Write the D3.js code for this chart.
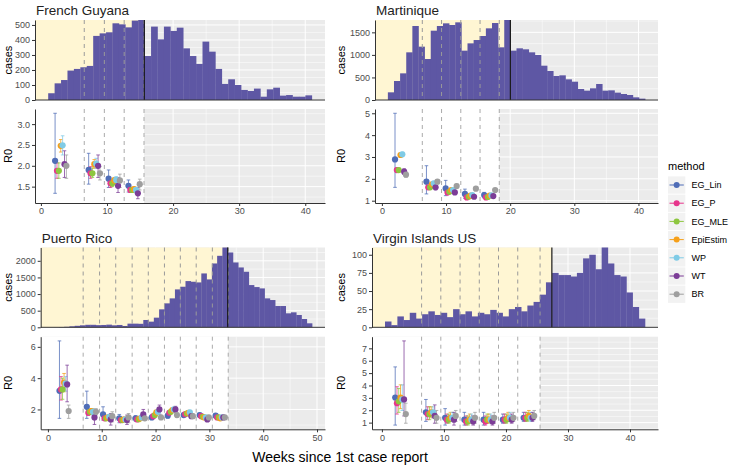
<!DOCTYPE html>
<html>
<head>
<meta charset="utf-8">
<script src="https://cdn.jsdelivr.net/npm/d3@7"></script>
<style>
  body { margin: 0; background: #fff; }
  svg text { font-family: "Liberation Sans", Arial, sans-serif; font-weight: normal; }
</style>
</head>
<body>
<svg id="chart" width="730" height="467"></svg>
<script>
// methods and colours
const methods = ['EG_Lin', 'EG_P', 'EG_MLE', 'EpiEstim', 'WP', 'WT', 'BR'];
const methodColors = ['#4F6DB7', '#E7358C', '#8DC63F', '#F6A01A', '#7FCBE6', '#7C3D97', '#9E9E9E'];

// ---- French Guyana ----
const fgCases = [45, 111, 133, 196, 207, 218, 227, 427, 444, 451, 511, 504, 484, 529, 533,
  293, 489, 404, 489, 460, 482, 344, 293, 240, 389, 322, 207, 107, 138, 100, 67, 60, 76,
  22, 71, 82, 29, 33, 22, 22, 31];
const fgBreaks = [6.56, 9.6, 12.6, 15.6];
const fgCenters = [3.0, 8.08, 11.1, 14.1];
const fgMid = [
  [2.12, 1.88, 1.88, 2.48, 2.49, 2.04, 2.00],
  [1.90, 1.82, 1.82, 2.04, 2.05, 2.00, 1.82],
  [1.69, 1.58, 1.58, 1.65, 1.66, 1.52, 1.65],
  [1.52, 1.42, 1.42, 1.44, 1.42, 1.34, 1.56]];
const fgLo = [
  [1.34, 1.70, 1.70, 2.33, 2.26, 1.72, 1.70],
  [1.56, 1.70, 1.72, 1.94, 1.94, 1.72, 1.66],
  [1.48, 1.48, 1.50, 1.58, 1.58, 1.36, 1.48],
  [1.37, 1.36, 1.37, 1.39, 1.37, 1.21, 1.42]];
const fgHi = [
  [3.26, 2.07, 2.07, 2.63, 2.72, 2.36, 2.26],
  [2.30, 1.98, 1.95, 2.15, 2.18, 2.26, 1.98],
  [1.90, 1.66, 1.66, 1.72, 1.74, 1.72, 1.80],
  [1.66, 1.48, 1.47, 1.49, 1.47, 1.48, 1.68]];

// ---- Martinique ----
const martCases = [170, 421, 591, 1057, 1641, 1183, 909, 1537, 1641, 1700, 1663, 1722, 1094,
  1256, 1330, 1419, 1589, 1707, 1168, 1774, 1094, 1146, 1124, 1057, 998, 761, 643, 532, 547,
  458, 406, 244, 207, 259, 355, 207, 214, 163, 133, 111, 59, 30];
const martBreaks = [6.3, 9.3, 12.3, 15.3, 18.3];
const martCenters = [2.9, 7.8, 10.8, 13.8, 16.8];
const martMid = [
  [2.89, 2.40, 2.40, 3.09, 3.12, 2.33, 2.19],
  [1.87, 1.61, 1.61, 1.75, 1.79, 1.61, 1.87],
  [1.56, 1.37, 1.41, 1.49, 1.49, 1.38, 1.67],
  [1.31, 1.15, 1.18, 1.23, 1.26, 1.18, 1.55],
  [1.26, 1.15, 1.17, 1.23, 1.24, 1.21, 1.49]];
const martLo = [
  [1.61, 2.30, 2.30, 3.00, 3.02, 2.20, 2.08],
  [1.31, 1.52, 1.52, 1.68, 1.70, 1.50, 1.78],
  [1.23, 1.30, 1.33, 1.43, 1.43, 1.30, 1.58],
  [1.11, 1.09, 1.12, 1.18, 1.20, 1.10, 1.47],
  [1.12, 1.10, 1.12, 1.18, 1.19, 1.14, 1.42]];
const martHi = [
  [5.00, 2.50, 2.50, 3.18, 3.22, 2.46, 2.30],
  [2.60, 1.70, 1.70, 1.82, 1.88, 1.72, 1.96],
  [1.93, 1.44, 1.49, 1.55, 1.55, 1.46, 1.76],
  [1.53, 1.21, 1.24, 1.28, 1.32, 1.26, 1.63],
  [1.38, 1.20, 1.22, 1.28, 1.29, 1.28, 1.56]];

// ---- Puerto Rico ----
const prCases = [3, 8, 15, 30, 45, 60, 75, 75, 65, 70, 80, 60, 70, 40, 110, 110, 105, 220, 170,
  290, 540, 720, 870, 1140, 1220, 1390, 1370, 1350, 1620, 1440, 1920, 2150, 2400, 2250, 1950,
  1800, 1670, 1270, 1210, 1170, 870, 820, 640, 640, 420, 450, 370, 250, 120];
const prBreaks = [6.55, 9.6, 12.6, 15.65, 18.65, 21.65, 24.6, 27.55, 30.55, 33.5];
const prCenters = [3.0, 8.08, 11.1, 14.12, 17.15, 20.15, 23.12, 26.08, 29.05, 32.02];
const prMid = [
  [3.19, 3.28, 3.28, 3.72, 3.66, 3.60, 1.90],
  [2.17, 1.79, 1.85, 1.90, 1.85, 1.49, 1.85],
  [1.68, 1.43, 1.43, 1.49, 1.53, 1.36, 1.57],
  [1.43, 1.32, 1.32, 1.36, 1.36, 1.32, 1.49],
  [1.43, 1.36, 1.38, 1.43, 1.49, 1.68, 1.43],
  [1.49, 1.57, 1.64, 1.81, 1.85, 2.00, 1.49],
  [1.60, 1.79, 1.85, 1.96, 2.00, 2.00, 1.64],
  [1.64, 1.70, 1.74, 1.79, 1.81, 1.57, 1.57],
  [1.64, 1.57, 1.53, 1.49, 1.49, 1.36, 1.49],
  [1.60, 1.49, 1.49, 1.43, 1.49, 1.49, 1.49]];
const prLo = [
  [1.43, 2.60, 2.65, 3.13, 3.17, 2.49, 1.43],
  [1.43, 1.62, 1.68, 1.75, 1.64, 1.04, 1.65],
  [1.32, 1.33, 1.33, 1.40, 1.42, 1.00, 1.21],
  [1.15, 1.22, 1.22, 1.27, 1.26, 1.04, 1.15],
  [1.25, 1.26, 1.28, 1.34, 1.38, 1.32, 1.30],
  [1.35, 1.45, 1.52, 1.70, 1.72, 1.70, 1.36],
  [1.45, 1.68, 1.74, 1.86, 1.88, 1.80, 1.50],
  [1.52, 1.60, 1.64, 1.70, 1.70, 1.45, 1.45],
  [1.52, 1.48, 1.44, 1.40, 1.40, 1.24, 1.38],
  [1.50, 1.40, 1.40, 1.35, 1.40, 1.38, 1.38]];
const prHi = [
  [6.38, 4.10, 4.00, 4.30, 4.10, 4.83, 2.28],
  [3.17, 1.96, 2.02, 2.06, 2.06, 1.96, 2.05],
  [2.17, 1.53, 1.53, 1.58, 1.64, 1.74, 1.85],
  [1.68, 1.42, 1.42, 1.45, 1.46, 1.64, 1.74],
  [1.60, 1.46, 1.48, 1.52, 1.60, 2.00, 1.56],
  [1.63, 1.68, 1.76, 1.92, 1.98, 2.28, 1.62],
  [1.75, 1.90, 1.96, 2.06, 2.12, 2.20, 1.78],
  [1.76, 1.80, 1.84, 1.88, 1.92, 1.70, 1.70],
  [1.76, 1.66, 1.62, 1.58, 1.58, 1.48, 1.60],
  [1.70, 1.58, 1.58, 1.52, 1.58, 1.60, 1.60]];

// ---- Virgin Islands US ----
const viCases = [8, 3, 15, 10, 20, 12, 18, 22, 17, 20, 14, 25, 18, 22, 15, 20, 18, 24, 20, 15,
  25, 28, 22, 30, 35, 45, 62, 75, 72, 72, 70, 75, 95, 100, 80, 110, 88, 72, 70, 48, 28, 12];
const viBreaks = [6.4, 9.5, 12.6, 15.7, 18.8, 21.9, 25.5];
const viCenters = [3.0, 7.95, 11.05, 14.15, 17.25, 20.35, 23.7];
const viMid = [
  [3.02, 2.57, 2.72, 3.02, 2.87, 2.87, 1.69],
  [1.83, 1.69, 1.69, 1.83, 1.83, 1.54, 1.39],
  [1.39, 1.24, 1.24, 1.39, 1.39, 1.24, 1.54],
  [1.24, 1.10, 1.10, 1.24, 1.24, 1.10, 1.39],
  [1.24, 1.10, 1.24, 1.24, 1.24, 1.10, 1.39],
  [1.24, 1.24, 1.24, 1.39, 1.39, 1.24, 1.39],
  [1.39, 1.39, 1.39, 1.54, 1.39, 1.39, 1.54]];
const viLo = [
  [0.80, 1.69, 1.83, 2.13, 1.98, 1.54, 0.95],
  [1.10, 1.24, 1.24, 1.39, 1.39, 0.95, 0.95],
  [0.80, 0.95, 0.95, 1.10, 1.10, 0.80, 1.10],
  [0.80, 0.80, 0.80, 0.95, 0.95, 0.80, 0.95],
  [0.80, 0.80, 0.95, 0.95, 0.95, 0.80, 0.95],
  [0.95, 0.95, 0.95, 1.10, 1.10, 0.95, 1.10],
  [1.10, 1.10, 1.10, 1.24, 1.10, 1.10, 1.24]];
const viHi = [
  [5.50, 3.90, 3.76, 4.05, 4.05, 7.60, 2.57],
  [2.87, 2.28, 2.28, 2.28, 2.28, 2.43, 1.98],
  [2.13, 1.69, 1.69, 1.83, 1.83, 1.83, 1.98],
  [1.83, 1.54, 1.54, 1.69, 1.69, 1.54, 1.83],
  [1.83, 1.54, 1.69, 1.69, 1.69, 1.54, 1.83],
  [1.69, 1.69, 1.69, 1.83, 1.83, 1.69, 1.83],
  [1.83, 1.83, 1.83, 1.98, 1.83, 1.83, 1.98]];

const svg = d3.select('#chart');

const expand = (ext, f) => {
  const d = (ext[1] - ext[0]) * f;
  return [ext[0] - d, ext[1] + d];
};

// ggplot-like minor breaks: midpoints of (extended) majors inside the domain
const minorsOf = (ticks, domain) => {
  const step = ticks[1] - ticks[0];
  const ext = [ticks[0] - step, ...ticks, ticks[ticks.length - 1] + step];
  const out = [];
  for (let i = 0; i < ext.length - 1; i++) {
    const m = (ext[i] + ext[i + 1]) / 2;
    if (m > domain[0] && m < domain[1]) out.push(m);
  }
  return out;
};

const drawGrid = (g, x, y, xTicks, yTicks, box) => {
  const xd = x.domain(), yd = y.domain();
  const inX = v => v >= xd[0] && v <= xd[1];
  const inY = v => v >= yd[0] && v <= yd[1];
  minorsOf(xTicks, xd).forEach(v => g.append('line')
    .attr('x1', x(v)).attr('x2', x(v)).attr('y1', box.top).attr('y2', box.bottom)
    .attr('stroke', '#fff').attr('stroke-width', 0.5));
  minorsOf(yTicks, yd).forEach(v => g.append('line')
    .attr('x1', box.left).attr('x2', box.right).attr('y1', y(v)).attr('y2', y(v))
    .attr('stroke', '#fff').attr('stroke-width', 0.5));
  xTicks.filter(inX).forEach(v => g.append('line')
    .attr('x1', x(v)).attr('x2', x(v)).attr('y1', box.top).attr('y2', box.bottom)
    .attr('stroke', '#fff').attr('stroke-width', 1));
  yTicks.filter(inY).forEach(v => g.append('line')
    .attr('x1', box.left).attr('x2', box.right).attr('y1', y(v)).attr('y2', y(v))
    .attr('stroke', '#fff').attr('stroke-width', 1));
};

const styleAxis = (g) => {
  g.attr('font-family', '"Liberation Sans", Arial, sans-serif');
  g.select('.domain').attr('stroke', '#333').attr('stroke-width', 1);
  g.selectAll('.tick line').attr('stroke', '#333');
  g.selectAll('.tick text').attr('fill', '#4D4D4D').attr('font-size', 9);
};

function drawCountry(p) {
  const n = p.cases.length;
  const x = d3.scaleLinear()
    .domain(expand([p.start, p.start + n * p.binW], 0.05))
    .range([p.left, p.right]);
  const yC = d3.scaleLinear().domain([0, d3.max(p.cases)]).range([p.histBottom, p.histTop]);
  const yR = d3.scaleLinear()
    .domain(expand([d3.min(p.lo.flat()), d3.max(p.hi.flat())], 0.05))
    .range([p.r0Bottom, p.r0Top]);

  // title
  svg.append('text')
    .attr('x', p.left + 1).attr('y', p.histTop - 5)
    .attr('font-size', 13.5).attr('fill', '#222')
    .text(p.name);

  // ---- histogram panel ----
  const h = svg.append('g');
  const hb = { left: p.left, right: p.right, top: p.histTop, bottom: p.histBottom };
  h.append('rect')
    .attr('x', hb.left).attr('y', hb.top)
    .attr('width', hb.right - hb.left).attr('height', hb.bottom - hb.top)
    .attr('fill', '#EBEBEB');
  drawGrid(h, x, yC, p.xTicks, p.caseTicks, hb);
  h.append('rect')
    .attr('x', hb.left).attr('y', hb.top)
    .attr('width', x(p.cutoff) - hb.left).attr('height', hb.bottom - hb.top)
    .attr('fill', '#FFF6D3');

  h.selectAll('rect.bar')
    .data(p.cases)
    .enter()
    .append('rect')
      .attr('class', 'bar')
      .attr('x', (d, i) => x(p.start + i * p.binW))
      .attr('width', (d, i) => x(p.start + (i + 1) * p.binW) - x(p.start + i * p.binW) + 0.3)
      .attr('y', d => yC(d))
      .attr('height', d => p.histBottom - yC(d))
      .attr('fill', '#5E57A4');

  p.breaks.forEach(b => h.append('line')
    .attr('x1', x(b)).attr('x2', x(b)).attr('y1', hb.top).attr('y2', hb.bottom)
    .attr('stroke', '#9A9A9A').attr('stroke-width', 1).attr('stroke-dasharray', '4,4'));
  h.append('line')
    .attr('x1', x(p.cutoff)).attr('x2', x(p.cutoff)).attr('y1', hb.top).attr('y2', hb.bottom)
    .attr('stroke', '#1a1a1a').attr('stroke-width', 1.2);

  const hy = h.append('g')
    .attr('transform', `translate(${p.left},0)`)
    .call(d3.axisLeft(yC).tickValues(p.caseTicks).tickFormat(d3.format('d'))
      .tickSize(3).tickPadding(2).tickSizeOuter(0));
  styleAxis(hy);
  h.append('line')
    .attr('x1', p.left).attr('x2', p.right).attr('y1', p.histBottom).attr('y2', p.histBottom)
    .attr('stroke', '#333').attr('stroke-width', 1);

  svg.append('text')
    .attr('transform', `translate(${p.titleX},${(p.histTop + p.histBottom) / 2}) rotate(-90)`)
    .attr('text-anchor', 'middle').attr('dy', '0.35em')
    .attr('font-size', 11).attr('fill', '#000')
    .text('cases');

  // ---- R0 panel ----
  const r = svg.append('g');
  const rb = { left: p.left, right: p.right, top: p.r0Top, bottom: p.r0Bottom };
  const lastBreak = p.breaks[p.breaks.length - 1];
  r.append('rect')
    .attr('x', rb.left).attr('y', rb.top)
    .attr('width', rb.right - rb.left).attr('height', rb.bottom - rb.top)
    .attr('fill', '#EBEBEB');
  drawGrid(r, x, yR, p.xTicks, p.r0Ticks, rb);
  r.append('rect')
    .attr('x', rb.left).attr('y', rb.top)
    .attr('width', x(lastBreak) - rb.left).attr('height', rb.bottom - rb.top)
    .attr('fill', '#fff');
  p.breaks.forEach(b => r.append('line')
    .attr('x1', x(b)).attr('x2', x(b)).attr('y1', rb.top).attr('y2', rb.bottom)
    .attr('stroke', '#AAAAAA').attr('stroke-width', 1).attr('stroke-dasharray', '4,4'));

  // long table for the points
  const rows = [];
  p.mid.forEach((win, w) => win.forEach((v, m) => rows.push({
    m, mid: v, lo: p.lo[w][m], hi: p.hi[w][m],
    wx: p.centers[w] + (m - 3) * 0.285
  })));

  const eb = r.append('g');
  rows.forEach(d => {
    const cx = x(d.wx);
    const c = methodColors[d.m];
    eb.append('line').attr('x1', cx).attr('x2', cx).attr('y1', yR(d.lo)).attr('y2', yR(d.hi))
      .attr('stroke', c).attr('stroke-width', 1).attr('opacity', 0.75);
    [d.lo, d.hi].forEach(v => eb.append('line')
      .attr('x1', cx - 1.8).attr('x2', cx + 1.8).attr('y1', yR(v)).attr('y2', yR(v))
      .attr('stroke', c).attr('stroke-width', 1).attr('opacity', 0.75));
  });
  r.selectAll('circle')
    .data(rows)
    .enter()
    .append('circle')
      .attr('cx', d => x(d.wx))
      .attr('cy', d => yR(d.mid))
      .attr('r', 3.1)
      .attr('fill', d => methodColors[d.m]);

  const ry = r.append('g')
    .attr('transform', `translate(${p.left},0)`)
    .call(d3.axisLeft(yR).tickValues(p.r0Ticks).tickFormat(d3.format(p.r0Format))
      .tickSize(3).tickPadding(2).tickSizeOuter(0));
  styleAxis(ry);
  const rx = r.append('g')
    .attr('transform', `translate(0,${p.r0Bottom})`)
    .call(d3.axisBottom(x).tickValues(p.xTicks).tickSize(3).tickPadding(2).tickSizeOuter(0));
  styleAxis(rx);

  svg.append('text')
    .attr('transform', `translate(${p.titleX},${(p.r0Top + p.r0Bottom) / 2}) rotate(-90)`)
    .attr('text-anchor', 'middle').attr('dy', '0.35em')
    .attr('font-size', 11).attr('fill', '#000')
    .text('R0');
}

drawCountry({
  name: 'French Guyana', cases: fgCases, start: 1.1, binW: 0.973, cutoff: 15.65,
  breaks: fgBreaks, centers: fgCenters, mid: fgMid, lo: fgLo, hi: fgHi,
  caseTicks: [0, 100, 200, 300, 400, 500], r0Ticks: [1.5, 2.0, 2.5, 3.0], r0Format: '.1f',
  xTicks: [0, 10, 20, 30, 40],
  left: 35, right: 325, histTop: 20, histBottom: 100, r0Top: 109, r0Bottom: 203, titleX: 8
});
drawCountry({
  name: 'Martinique', cases: martCases, start: 0.93, binW: 0.955, cutoff: 20.03,
  breaks: martBreaks, centers: martCenters, mid: martMid, lo: martLo, hi: martHi,
  caseTicks: [0, 500, 1000, 1500], r0Ticks: [1, 2, 3, 4, 5], r0Format: 'd',
  xTicks: [0, 10, 20, 30, 40],
  left: 375, right: 658, histTop: 20, histBottom: 100, r0Top: 109, r0Bottom: 203, titleX: 341
});
drawCountry({
  name: 'Puerto Rico', cases: prCases, start: 1.06, binW: 0.98, cutoff: 33.4,
  breaks: prBreaks, centers: prCenters, mid: prMid, lo: prLo, hi: prHi,
  caseTicks: [0, 500, 1000, 1500, 2000], r0Ticks: [2, 4, 6], r0Format: 'd',
  xTicks: [0, 10, 20, 30, 40, 50],
  left: 40.7, right: 325, histTop: 247.5, histBottom: 327.3, r0Top: 336.7, r0Bottom: 429.3, titleX: 8
});
drawCountry({
  name: 'Virgin Islands US', cases: viCases, start: 0.5, binW: 0.998, cutoff: 27.4,
  breaks: viBreaks, centers: viCenters, mid: viMid, lo: viLo, hi: viHi,
  caseTicks: [0, 25, 50, 75, 100], r0Ticks: [1, 2, 3, 4, 5, 6, 7], r0Format: 'd',
  xTicks: [0, 10, 20, 30, 40],
  left: 372, right: 658, histTop: 247.5, histBottom: 327.3, r0Top: 336.7, r0Bottom: 429.3, titleX: 341
});

// shared x-axis title
svg.append('text')
  .attr('x', 340).attr('y', 462)
  .attr('text-anchor', 'middle')
  .attr('font-size', 14).attr('fill', '#000')
  .text('Weeks since 1st case report');

// legend
const legend = svg.append('g').attr('transform', 'translate(668,0)');
legend.append('text')
  .attr('x', 0).attr('y', 170)
  .attr('font-size', 11).attr('fill', '#000')
  .text('method');
methods.forEach((m, i) => {
  const cy = 185 + i * 18.2;
  legend.append('rect')
    .attr('x', 0).attr('y', cy - 8.6).attr('width', 17.3).attr('height', 17.3)
    .attr('fill', '#F2F2F2');
  legend.append('line')
    .attr('x1', 1.5).attr('x2', 15.8).attr('y1', cy).attr('y2', cy)
    .attr('stroke', methodColors[i]).attr('stroke-width', 1);
  legend.append('circle')
    .attr('cx', 8.65).attr('cy', cy).attr('r', 3)
    .attr('fill', methodColors[i]);
  legend.append('text')
    .attr('x', 23.5).attr('y', cy).attr('dy', '0.35em')
    .attr('font-size', 9).attr('fill', '#000')
    .text(m);
});
</script>
</body>
</html>
